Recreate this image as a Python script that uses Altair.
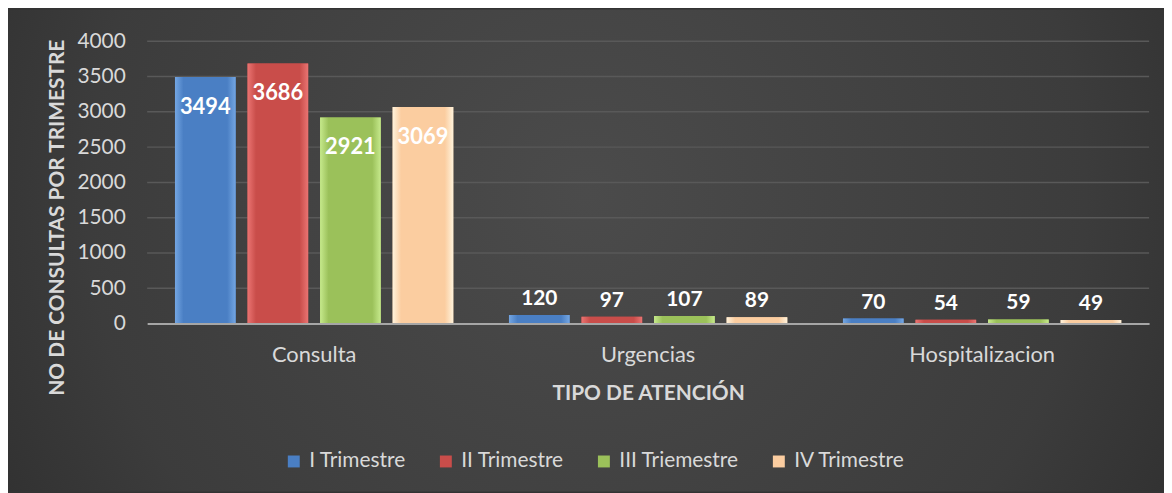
import altair as alt
import pandas as pd

categories = ["Consulta", "Urgencias", "Hospitalizacion"]
series = ["I Trimestre", "II Trimestre", "III Triemestre", "IV Trimestre"]
values = {
    "I Trimestre": [3494, 120, 70],
    "II Trimestre": [3686, 97, 54],
    "III Triemestre": [2921, 107, 59],
    "IV Trimestre": [3069, 89, 49],
}
colors = ["#4a7fc4", "#c94d4a", "#9bc15a", "#fbcda0"]
edge_colors = ["#74a6e2", "#ea7472", "#c6e98c", "#fff3dc"]
y_ticks = [0, 500, 1000, 1500, 2000, 2500, 3000, 3500, 4000]

rows = []
for s in series:
    for c, v in zip(categories, values[s]):
        rows.append({"cat": c, "serie": s, "value": v})
df = pd.DataFrame(rows)
grid_df = pd.DataFrame({"value": y_ticks[1:]})
bg_df = pd.DataFrame({"k": [0]})

FONT = "Lato"
TXT = "#d9d9d9"
W, H = 1008, 284
PL, PT, TOTW, TOTH = 140, 32, 1163, 485

x = alt.X("cat:N", sort=categories,
          scale=alt.Scale(domain=categories, paddingInner=0.1667, paddingOuter=0.0833),
          axis=alt.Axis(title="TIPO DE ATENCIÓN", labelAngle=0, labelFontSize=22,
                        labelPadding=21, labelColor=TXT, labelFont=FONT,
                        titleFont=FONT, titleFontSize=21, titleFontWeight="bold",
                        titleColor=TXT, titleY=70, titleBaseline="middle",
                        ticks=False, domainColor="#a6a6a6", domainWidth=2, zindex=1))
xo = alt.XOffset("serie:N", sort=series, scale=alt.Scale(domain=series, paddingInner=0.164))
y_axis = alt.Axis(title="NO DE CONSULTAS POR TRIMESTRE", values=y_ticks, format="d",
                  labelFontSize=21, labelColor=TXT, labelFont=FONT, labelPadding=22,
                  titleFont=FONT, titleFontSize=21, titleFontWeight="bold",
                  titleColor=TXT, titleX=-90, titleY=177, titleAngle=-90,
                  titleBaseline="middle", titleAlign="center",
                  ticks=False, domain=False, grid=False, zindex=1)
y = alt.Y("value:Q", scale=alt.Scale(domain=[0, 4000]), axis=y_axis)

bg = alt.Chart(bg_df).mark_rect(
    color=alt.Gradient(gradient="radial",
                       stops=[alt.GradientStop(color="#4b4b4b", offset=0),
                              alt.GradientStop(color="#3c3c3c", offset=0.6),
                              alt.GradientStop(color="#262626", offset=1)],
                       x1=0.5, y1=0.45, x2=0.5, y2=0.45, r1=0, r2=0.72)
).encode(x=alt.value(-PL), x2=alt.value(TOTW - PL), y=alt.value(-PT), y2=alt.value(TOTH - PT))

grid = alt.Chart(grid_df).mark_rule(color="#595959", strokeWidth=1.5).encode(y=y)

bars = alt.Chart(df).mark_bar().encode(
    x=x, xOffset=xo, y=y,
    color=alt.Color("serie:N", sort=series,
                    scale=alt.Scale(domain=series, range=colors),
                    legend=alt.Legend(title=None, orient="none", direction="horizontal",
                                      legendX=137, legendY=412, columns=4,
                                      labelFontSize=21, labelColor=TXT, labelFont=FONT,
                                      symbolType="square", symbolSize=144,
                                      symbolStrokeWidth=0, columnPadding=29,
                                      labelOffset=5)),
)

grad_layers = []
for s, c, e in zip(series, colors, edge_colors):
    g = alt.Gradient(gradient="linear",
                     stops=[alt.GradientStop(color=e, offset=0),
                            alt.GradientStop(color=c, offset=0.14),
                            alt.GradientStop(color=c, offset=0.86),
                            alt.GradientStop(color=e, offset=1)],
                     x1=0, x2=1, y1=0, y2=0)
    grad_layers.append(
        alt.Chart(df).transform_filter(alt.datum.serie == s).mark_bar(color=g).encode(
            x=x, xOffset=xo, y=y)
    )

big = alt.Chart(df).transform_filter("datum.value >= 1000").mark_text(
    font=FONT, fontWeight="bold", fontSize=22, color="white", dy=30, baseline="middle"
).encode(x=x, xOffset=xo, y=y, text="value:Q")

small = alt.Chart(df).transform_filter("datum.value < 1000").mark_text(
    font=FONT, fontWeight="bold", fontSize=21, color="white", dy=-16, baseline="middle"
).encode(x=x, xOffset=xo, y=y, text="value:Q")

chart = alt.layer(bg, grid, bars, *grad_layers, big, small).properties(
    width=W, height=H,
    autosize=alt.AutoSizeParams(type="none"),
    padding={"left": PL, "top": PT, "right": TOTW - PL - W, "bottom": TOTH - PT - H},
    background="#333333",
).configure_view(stroke=None)

chart.save("out.html", embed_options={"renderer": "svg", "actions": False})
